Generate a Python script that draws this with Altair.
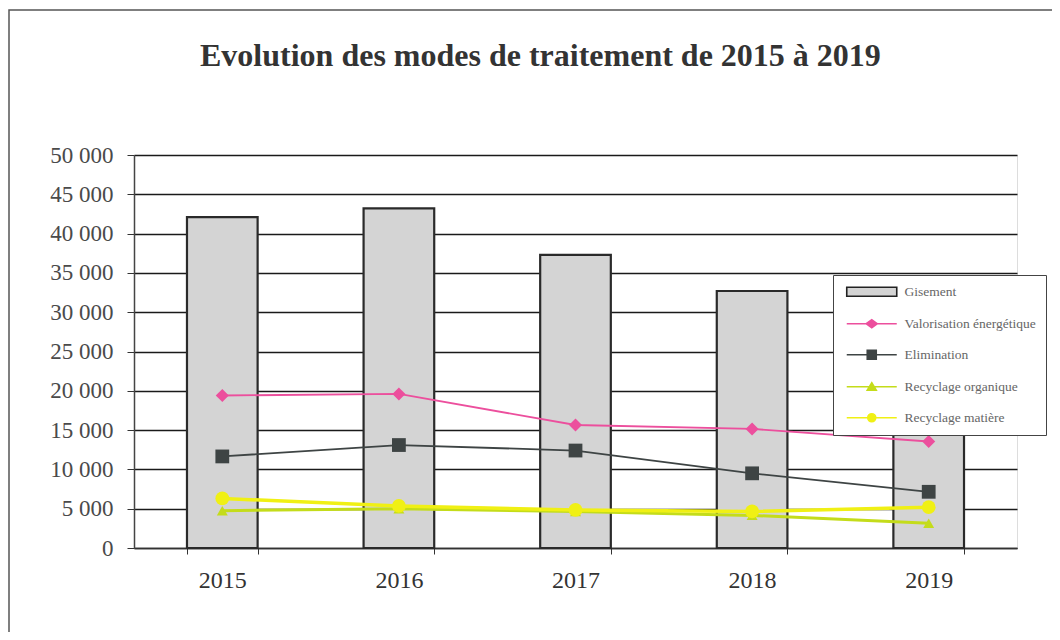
import altair as alt
import pandas as pd

annees = ["2015", "2016", "2017", "2018", "2019"]
gisement = [42100, 43200, 37300, 32700, 30000]
valorisation = [19400, 19600, 15650, 15150, 13550]
elimination = [11650, 13100, 12400, 9500, 7150]
recyclage_organique = [4750, 5000, 4650, 4150, 3150]
recyclage_matiere = [6300, 5350, 4850, 4650, 5200]

series = ["Gisement", "Valorisation énergétique", "Elimination",
          "Recyclage organique", "Recyclage matière"]
couleurs = ["#d4d4d4", "#ec4f9d", "#3e4444", "#c4dc1a", "#f0f014"]
contours = ["#222222", "#ec4f9d", "#3e4444", "#c4dc1a", "#f0f014"]
formes = ["square", "diamond", "square", "triangle-up", "circle"]
tailles = [0, 170, 190, 120, 190]
epaisseurs = [0, 1.8, 1.8, 3, 3.5]

bar_df = pd.DataFrame({"annee": annees, "valeur": gisement, "serie": "Gisement"})
rows = []
for nom, vals in zip(series[1:], [valorisation, elimination,
                                   recyclage_organique, recyclage_matiere]):
    for a, v in zip(annees, vals):
        rows.append({"annee": a, "valeur": v, "serie": nom})
line_df = pd.DataFrame(rows)

# legend symbol paths (line + marker), in symbol units (size 100 -> 5 px/unit)
paths = [
    "M-0.6,-0.9H9.4V0.9H-0.6Z",
    "M-0.6,0H9.4M3.3,0L4.4,-0.8L5.5,0L4.4,0.8Z",
    "M-0.6,0H9.4M3.5,-0.9H5.3V0.9H3.5Z",
    "M-0.6,0H9.4M4.4,-0.8L5.3,0.7H3.5Z",
    "M-0.6,0H9.4M3.6,0A0.8,0.8,0,1,0,5.2,0A0.8,0.8,0,1,0,3.6,0Z",
]

legend = alt.Legend(
    title=None, orient="none", legendX=699, legendY=120,
    fillColor="white", strokeColor="#444", padding=10,
    symbolSize=100, labelOffset=48, rowPadding=16, symbolStrokeWidth=1.6,
    symbolOpacity=1,
    labelFont="Liberation Serif", labelFontSize=13.5, labelColor="#666",
    labelLimit=300,
)

color = alt.Color("serie:N", scale=alt.Scale(domain=series, range=couleurs), legend=None)
x = alt.X("annee:N", title=None, sort=annees,
          scale=alt.Scale(paddingInner=0.6, paddingOuter=0.3),
          axis=alt.Axis(labelAngle=0, labelFont="Liberation Serif", labelFontSize=24,
                        labelColor="#333", labelPadding=14, tickBand="extent",
                        tickSize=6, tickColor="#333", domainColor="#333",
                        domainWidth=1.5, grid=False))
y = alt.Y("valeur:Q", title=None,
          scale=alt.Scale(domain=[0, 50000], nice=False),
          axis=alt.Axis(values=list(range(0, 50001, 5000)),
                        labelExpr="datum.value == 0 ? '0' : floor(datum.value/1000) + ' 000'",
                        labelFont="Liberation Serif", labelFontSize=23, labelColor="#4a4a4a",
                        labelPadding=14, tickSize=7, tickColor="#333",
                        domainColor="#444", domainWidth=1.5,
                        grid=True, gridColor="#1a1a1a", gridWidth=1.3))

bars = alt.Chart(bar_df).mark_bar(stroke="#2a2a2a", strokeWidth=2.2, opacity=1).encode(
    x=x, y=y, color=color)

layers = [bars]
for nom, forme, taille, ep in zip(series[1:], formes[1:], tailles[1:], epaisseurs[1:]):
    base = alt.Chart(line_df).transform_filter(alt.datum.serie == nom)
    layers.append(base.mark_line(strokeWidth=ep).encode(x=x, y=y, color=color))
for nom, forme, taille, ep in zip(series[1:], formes[1:], tailles[1:], epaisseurs[1:]):
    base = alt.Chart(line_df).transform_filter(alt.datum.serie == nom)
    layers.append(base.mark_point(filled=True, shape=forme, size=taille, opacity=1).encode(
        x=x, y=y, color=color))

legend_layer = alt.Chart(line_df).transform_filter("false").mark_point(
    strokeWidth=1.6, opacity=1).encode(
    x=x, y=y,
    fill=alt.Fill("serie:N", scale=alt.Scale(domain=series, range=couleurs), legend=legend),
    stroke=alt.Stroke("serie:N", scale=alt.Scale(domain=series, range=contours), legend=legend),
    shape=alt.Shape("serie:N", scale=alt.Scale(domain=series, range=paths), legend=legend),
)
layers.append(legend_layer)

frame = alt.Chart(pd.DataFrame({"a": [0]})).mark_rect(
    filled=False, stroke="#555", strokeWidth=1.5).encode(
    x=alt.value(-125), x2=alt.value(1000), y=alt.value(-145), y2=alt.value(478))

chart = alt.layer(frame, *layers).resolve_scale(
    fill="independent", stroke="independent", shape="independent"
).properties(
    width=883, height=393,
    title=alt.TitleParams(
        "Evolution des modes de traitement de 2015 à 2019",
        font="Liberation Serif", fontSize=32, fontWeight="bold", color="#333",
        anchor="start", frame="group", dx=66, offset=0, dy=89, baseline="alphabetic"),
    autosize=alt.AutoSizeParams(type="none"),
    padding={"left": 126, "top": 147, "right": 35, "bottom": 84},
).configure_view(stroke="#999", strokeWidth=1).configure(background="white")

chart.save("out.html", embed_options={"renderer": "svg", "actions": False})
